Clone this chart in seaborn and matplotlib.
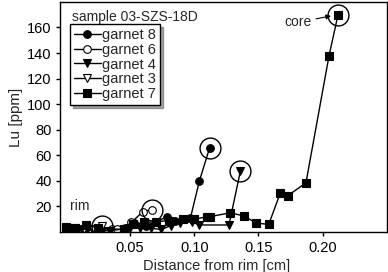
import matplotlib
matplotlib.use("Agg")
import matplotlib.pyplot as plt
import seaborn as sns
import pandas as pd

sns.set_style("ticks")
plt.rcParams['font.family'] = ['Liberation Sans', 'DejaVu Sans']

# garnet profiles: distance from rim [cm] vs Lu [ppm]
g8_x = [0.000, 0.008, 0.016, 0.046, 0.053, 0.062, 0.070, 0.079, 0.085, 0.091, 0.097, 0.104, 0.112]
g8_y = [3, 2, 3, 2, 7, 5, 8, 12, 9, 10, 11, 40, 66]
g6_x = [0.036, 0.040, 0.046, 0.051, 0.060, 0.067]
g6_y = [2, 2, 3, 7.5, 16, 17.5]
g4_x = [0.000, 0.006, 0.013, 0.020, 0.028, 0.034, 0.050, 0.058, 0.066, 0.074, 0.082,
        0.089, 0.098, 0.104, 0.127, 0.136]
g4_y = [1, 0.5, 1, 2, 1, 1, 3, 3, 3, 2, 5, 7, 8, 5.5, 5.5, 48]
g3_x = [0.000, 0.007, 0.014, 0.021, 0.028]
g3_y = [2, 3, 2, 2, 5]
g7_x = [0.000, 0.007, 0.016, 0.025, 0.045, 0.052, 0.061, 0.070, 0.080, 0.091, 0.100,
        0.110, 0.112, 0.128, 0.139, 0.148, 0.158, 0.167, 0.173, 0.187, 0.205, 0.212]
g7_y = [4, 3.5, 5.5, 3, 2, 6, 7.5, 8, 9, 10, 10, 12, 12, 15, 12.5, 7, 6, 30.5, 28.5,
        38.5, 138, 170]

series = [
    ("garnet 8", g8_x, g8_y, "o", "black"),
    ("garnet 6", g6_x, g6_y, "o", "white"),
    ("garnet 4", g4_x, g4_y, "v", "black"),
    ("garnet 3", g3_x, g3_y, "v", "white"),
    ("garnet 7", g7_x, g7_y, "s", "black"),
]

fig = plt.figure(figsize=(3.88, 2.72), dpi=100)
ax = fig.add_axes([0.155, 0.147, 0.842, 0.846])

for name, xs, ys, mk, fc in series:
    df = pd.DataFrame({"x": xs, "y": ys})
    sns.lineplot(data=df, x="x", y="y", ax=ax, sort=False, color="black", lw=1,
                 marker=mk, markersize=5.5, markerfacecolor=fc, markeredgecolor="black",
                 markeredgewidth=0.8, label=name)

# circles around the core points
core_x = [g8_x[-1], g6_x[-1], g4_x[-1], g3_x[-1], g7_x[-1]]
core_y = [g8_y[-1], g6_y[-1], g4_y[-1], g3_y[-1], g7_y[-1]]
ax.plot(core_x, core_y, ls="none", marker="o", markersize=15, markerfacecolor="none",
        markeredgecolor="black", markeredgewidth=1)

ax.set_xlim(-0.0045, 0.25)
ax.set_ylim(0, 180)
ax.set_xticks([0.05, 0.10, 0.15, 0.20])
ax.set_xticklabels(["0.05", "0.10", "0.15", "0.20"])
ax.set_yticks([20, 40, 60, 80, 100, 120, 140, 160])
ax.tick_params(direction="out", length=3, width=1, labelsize=10.5, colors="black")
ax.tick_params(axis="x", pad=3.5)
ax.tick_params(axis="y", pad=3)
for s in ax.spines.values():
    s.set_visible(True)
    s.set_linewidth(1)
    s.set_color("black")
ax.set_xlabel("Distance from rim [cm]", fontsize=10.5)
ax.xaxis.set_label_coords(0.48, -0.118)
ax.set_ylabel("Lu [ppm]", fontsize=11, labelpad=3)

ax.text(0.037, 0.935, "sample 03-SZS-18D", transform=ax.transAxes, fontsize=10,
        va="center", ha="left")
ax.text(0.0035, 20.5, "rim", fontsize=10, va="center", ha="left")
ax.annotate("core", xy=(0.2065, 169), xytext=(0.170, 164), fontsize=10,
            va="center", ha="left",
            arrowprops=dict(arrowstyle="-|>", color="black", lw=0.8,
                            mutation_scale=7, shrinkA=1, shrinkB=0))

leg = ax.legend(loc="upper left", bbox_to_anchor=(0.03, 0.905), frameon=True,
                fancybox=False, shadow=True, fontsize=10.5, handlelength=1.8,
                handletextpad=0.1, labelspacing=0.05, borderpad=0.3,
                borderaxespad=0)
leg.get_frame().set_edgecolor("black")
leg.get_frame().set_linewidth(1)

fig.savefig("out.png", dpi=100)
